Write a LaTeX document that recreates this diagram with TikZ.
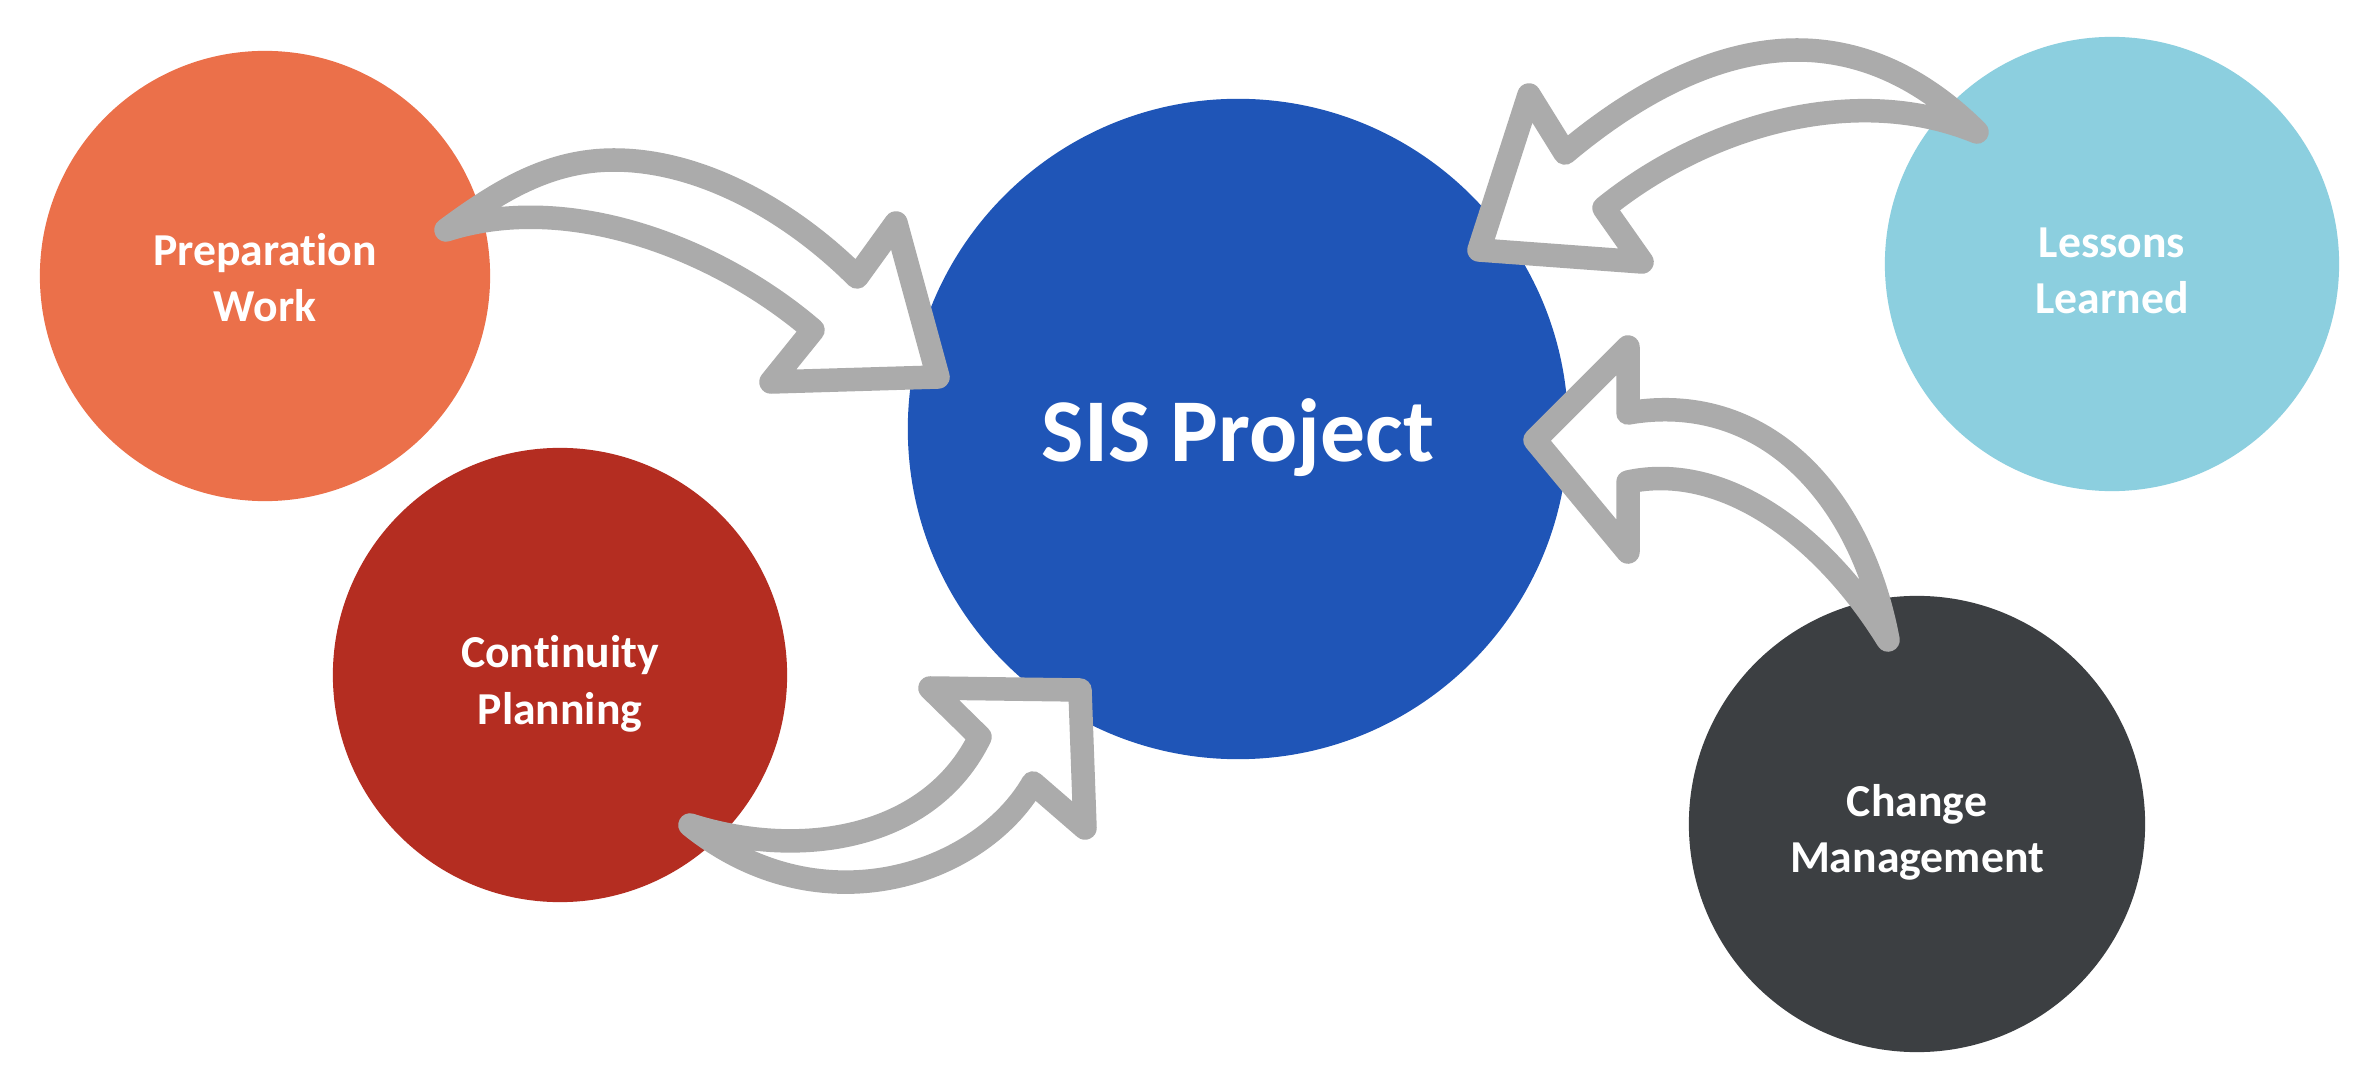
\documentclass[tikz,border=0pt]{standalone}
\usepackage{fontspec}
\setmainfont{Carlito}[Ligatures=NoCommon]
\definecolor{cprep}{HTML}{EB704A}
\definecolor{ccont}{HTML}{B42D21}
\definecolor{csis}{HTML}{1F55B7}
\definecolor{cless}{HTML}{8CCFDF}
\definecolor{cchange}{HTML}{3C3F42}
\definecolor{cgray}{HTML}{ABABAB}
\tikzset{
  bubble/.style={circle, inner sep=0pt, draw=none},
  label/.style={text=white, font=\bfseries\fontsize{13}{16}\selectfont, align=center, anchor=base, inner sep=0pt},
  biglabel/.style={text=white, font=\bfseries\fontsize{25.5}{30}\selectfont, anchor=base, inner sep=0pt},
  arrowshape/.style={draw=cgray, fill=white, line width=0.235cm, line join=round, line cap=round}
}
\begin{document}
\begin{tikzpicture}[x=0.01cm, y=-0.01cm]
\useasboundingbox (0,0) rectangle (2374,1088);
\fill[white] (0,0) rectangle (2374,1088);
% circles
\node[bubble, fill=cprep, minimum size=4.5cm] (prep) at (265,276) {};
\node[bubble, fill=ccont, minimum size=4.54cm] (cont) at (560,675) {};
\node[bubble, fill=csis, minimum size=6.6cm] (sis) at (1238,429) {};
\node[bubble, fill=cless, minimum size=4.54cm] (less) at (2112,264) {};
\node[bubble, fill=cchange, minimum size=4.56cm] (change) at (1917,824) {};
% labels (anchor = baseline of the last line)
\node[label] (tprep) at (265,322) {Preparation\\Work};
\node[label] (tcont) at (560,724) {Continuity\\Planning};
\node[biglabel] (tsis) at (1238,462) {SIS Project};
\node[label] (tless) at (2112,314) {Lessons\\Learned};
\node[label] (tchange) at (1917,873) {Change\\Management};
% arrow: preparation -> SIS
\draw[arrowshape] (446,230) .. controls (500,190) and (550,160) .. (614,160)
  .. controls (700,160) and (790,210) .. (857,277)
  -- (896,223) -- (938,377) -- (771,382) -- (813,330)
  .. controls (720,250) and (570,190) .. (446,230) -- cycle;
% arrow: lessons -> SIS
\draw[arrowshape] (1977,132) .. controls (1930,85) and (1870,50) .. (1797,50)
  .. controls (1720,50) and (1640,90) .. (1565,153)
  -- (1529,95) -- (1479,250) -- (1642,262) -- (1604,208)
  .. controls (1700,130) and (1850,80) .. (1977,132) -- cycle;
% arrow: change -> SIS
\draw[arrowshape] (1888,640) .. controls (1860,490) and (1760,390) .. (1628,413)
  -- (1628,347) -- (1535,440) -- (1628,552) -- (1628,482)
  .. controls (1720,462) and (1820,530) .. (1888,640) -- cycle;
% arrow: continuity -> SIS
\draw[arrowshape] (690,825) .. controls (800,860) and (930,840) .. (980,737)
  -- (930,688) -- (1080,690) -- (1085,828) -- (1033,783)
  .. controls (980,875) and (820,930) .. (690,825) -- cycle;
\end{tikzpicture}
\end{document}
